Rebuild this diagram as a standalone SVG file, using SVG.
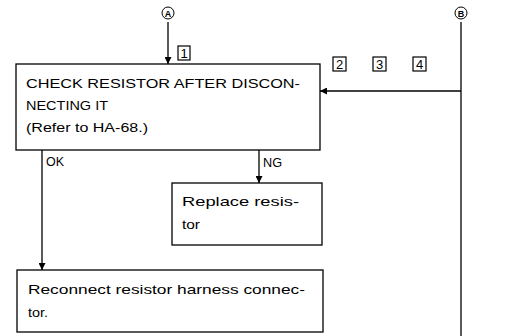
<svg xmlns="http://www.w3.org/2000/svg" width="522" height="336" viewBox="0 0 522 336">
<style>
.box{fill:#fff;stroke:#000;stroke-width:1.3}
.ln{fill:none;stroke:#000;stroke-width:1.3}
.t{font-family:"Liberation Sans",Arial,sans-serif;font-size:13px;fill:#000}
.c{font-family:"Liberation Sans",Arial,sans-serif;font-size:9px;font-weight:bold;fill:#000;text-anchor:middle}
.n{font-family:"Liberation Sans",Arial,sans-serif;font-size:13px;fill:#000;text-anchor:middle}
.nb{fill:#fff;stroke:#000;stroke-width:1.2}
</style>
<defs>
<marker id="ah" viewBox="0 0 10 10" refX="10" refY="5" markerWidth="7" markerHeight="7" markerUnits="userSpaceOnUse" orient="auto">
<path d="M0,0 L10,5 L0,10 z" fill="#000"/>
</marker>
</defs>
<g id="connectors">
<line class="ln" x1="168" y1="22" x2="168" y2="64" marker-end="url(#ah)"/>
<line class="ln" x1="461" y1="22" x2="461" y2="336"/>
<line class="ln" x1="461" y1="91" x2="320" y2="91" marker-end="url(#ah)"/>
<line class="ln" x1="42" y1="150" x2="42" y2="270" marker-end="url(#ah)"/>
<line class="ln" x1="259" y1="150" x2="259" y2="183" marker-end="url(#ah)"/>
<text class="t" x="46" y="166" textLength="18" lengthAdjust="spacingAndGlyphs">OK</text>
<text class="t" x="263" y="167" textLength="19" lengthAdjust="spacingAndGlyphs">NG</text>
</g>
<g id="markerA">
<circle cx="168" cy="13" r="6" fill="#fff" stroke="#000" stroke-width="1"/>
<text class="c" x="168" y="16.5">A</text>
</g>
<g id="markerB">
<circle cx="461" cy="13" r="6" fill="#fff" stroke="#000" stroke-width="1"/>
<text class="c" x="461" y="16.5">B</text>
</g>
<g id="step1">
<rect class="nb" x="178" y="46" width="12" height="14"/>
<text class="n" x="184" y="58">1</text>
</g>
<g id="step2">
<rect class="nb" x="333" y="57" width="13" height="14"/>
<text class="n" x="339.5" y="69">2</text>
</g>
<g id="step3">
<rect class="nb" x="373" y="57" width="13" height="14"/>
<text class="n" x="379.5" y="69">3</text>
</g>
<g id="step4">
<rect class="nb" x="413" y="57" width="13" height="14"/>
<text class="n" x="419.5" y="69">4</text>
</g>
<g id="check">
<rect class="box" x="16" y="64" width="304" height="86"/>
<text class="t" x="26" y="88" textLength="274" lengthAdjust="spacingAndGlyphs">CHECK RESISTOR AFTER DISCON-</text>
<text class="t" x="26" y="110" textLength="82" lengthAdjust="spacingAndGlyphs">NECTING IT</text>
<text class="t" x="26" y="132" textLength="122" lengthAdjust="spacingAndGlyphs">(Refer to HA-68.)</text>
</g>
<g id="replace">
<rect class="box" x="172" y="183" width="150" height="62"/>
<text class="t" x="182" y="206" textLength="117" lengthAdjust="spacingAndGlyphs">Replace resis-</text>
<text class="t" x="182" y="229" textLength="18" lengthAdjust="spacingAndGlyphs">tor</text>
</g>
<g id="reconnect">
<rect class="box" x="17" y="270" width="306" height="62"/>
<text class="t" x="28" y="294" textLength="277" lengthAdjust="spacingAndGlyphs">Reconnect resistor harness connec-</text>
<text class="t" x="28" y="317" textLength="20" lengthAdjust="spacingAndGlyphs">tor.</text>
</g>
</svg>
